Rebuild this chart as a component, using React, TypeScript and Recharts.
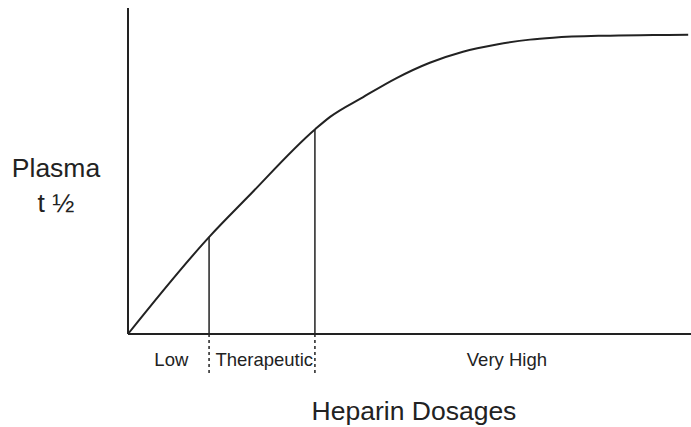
import React from "react";
import { LineChart, Line, XAxis, YAxis, ReferenceLine } from "recharts";

const doses = [0, 14.6, 21.1, 33.3, 35.9, 41.7, 47.7, 53.6, 59.5, 65.5, 71.4, 75.5, 84.4, 93.3, 99.5];
const halfLife = [0, 30.1, 41.7, 62.9, 66.6, 72.6, 78.5, 83.2, 86.6, 88.8, 90.3, 90.9, 91.5, 91.7, 91.8];
const boundaryDoses = [14.4, 33.2];
const boundaryHalfLife = [29.8, 62.8];
const rangeLabels = ["Low", "Therapeutic", "Very High"];
const rangeCenters = [7.7, 24.2, 67.3];
const xTitle = "Heparin Dosages";
const yTitle = ["Plasma", "t \u00BD"];

const data = doses.map((d, i) => ({ dose: d, t: halfLife[i] }));

const FONT = "'Liberation Sans', Arial, sans-serif";
const INK = "#222";

const RangeTick = (props: any) => {
  const { x, payload } = props;
  const idx = rangeCenters.indexOf(payload.value);
  return (
    <text x={x} y={366} textAnchor="middle" fontFamily={FONT} fontSize={18.5} fill={INK}>
      {rangeLabels[idx]}
    </text>
  );
};

export default function App() {
  return (
    <div style={{ position: "absolute", left: 0, top: 0, background: "#fff" }}>
      <LineChart
        width={691}
        height={427}
        data={data}
        margin={{ top: 8, right: 0, left: 127, bottom: 92 }}
      >
        <XAxis
          dataKey="dose"
          type="number"
          domain={[0, 100]}
          ticks={rangeCenters}
          tick={<RangeTick />}
          tickLine={false}
          height={1}
          axisLine={{ stroke: INK, strokeWidth: 2 }}
          label={{
            content: () => (
              <text x={414} y={420} textAnchor="middle" fontFamily={FONT} fontSize={26.5} fill={INK}>
                {xTitle}
              </text>
            ),
          }}
        />
        <YAxis
          type="number"
          domain={[0, 100]}
          width={1}
          tick={false}
          tickLine={false}
          axisLine={{ stroke: INK, strokeWidth: 2 }}
          label={{
            content: () => (
              <g>
                <text x={56} y={177} textAnchor="middle" fontFamily={FONT} fontSize={26.5} fill={INK}>
                  {yTitle[0]}
                </text>
                <text x={56} y={212} textAnchor="middle" fontFamily={FONT} fontSize={26.5} fill={INK}>
                  {yTitle[1]}
                </text>
              </g>
            ),
          }}
        />
        {boundaryDoses.map((b, i) => (
          <ReferenceLine
            key={"s" + i}
            segment={[
              { x: b, y: 0 },
              { x: b, y: boundaryHalfLife[i] },
            ]}
            stroke={INK}
            strokeWidth={1.5}
            ifOverflow="visible"
          />
        ))}
        {boundaryDoses.map((b, i) => (
          <ReferenceLine
            key={"d" + i}
            segment={[
              { x: b, y: 0 },
              { x: b, y: -12 },
            ]}
            stroke={INK}
            strokeWidth={1.5}
            strokeDasharray="3 3"
            ifOverflow="visible"
          />
        ))}
        <Line
          dataKey="t"
          type="monotone"
          stroke={INK}
          strokeWidth={2}
          dot={false}
          isAnimationActive={false}
        />
      </LineChart>
    </div>
  );
}
